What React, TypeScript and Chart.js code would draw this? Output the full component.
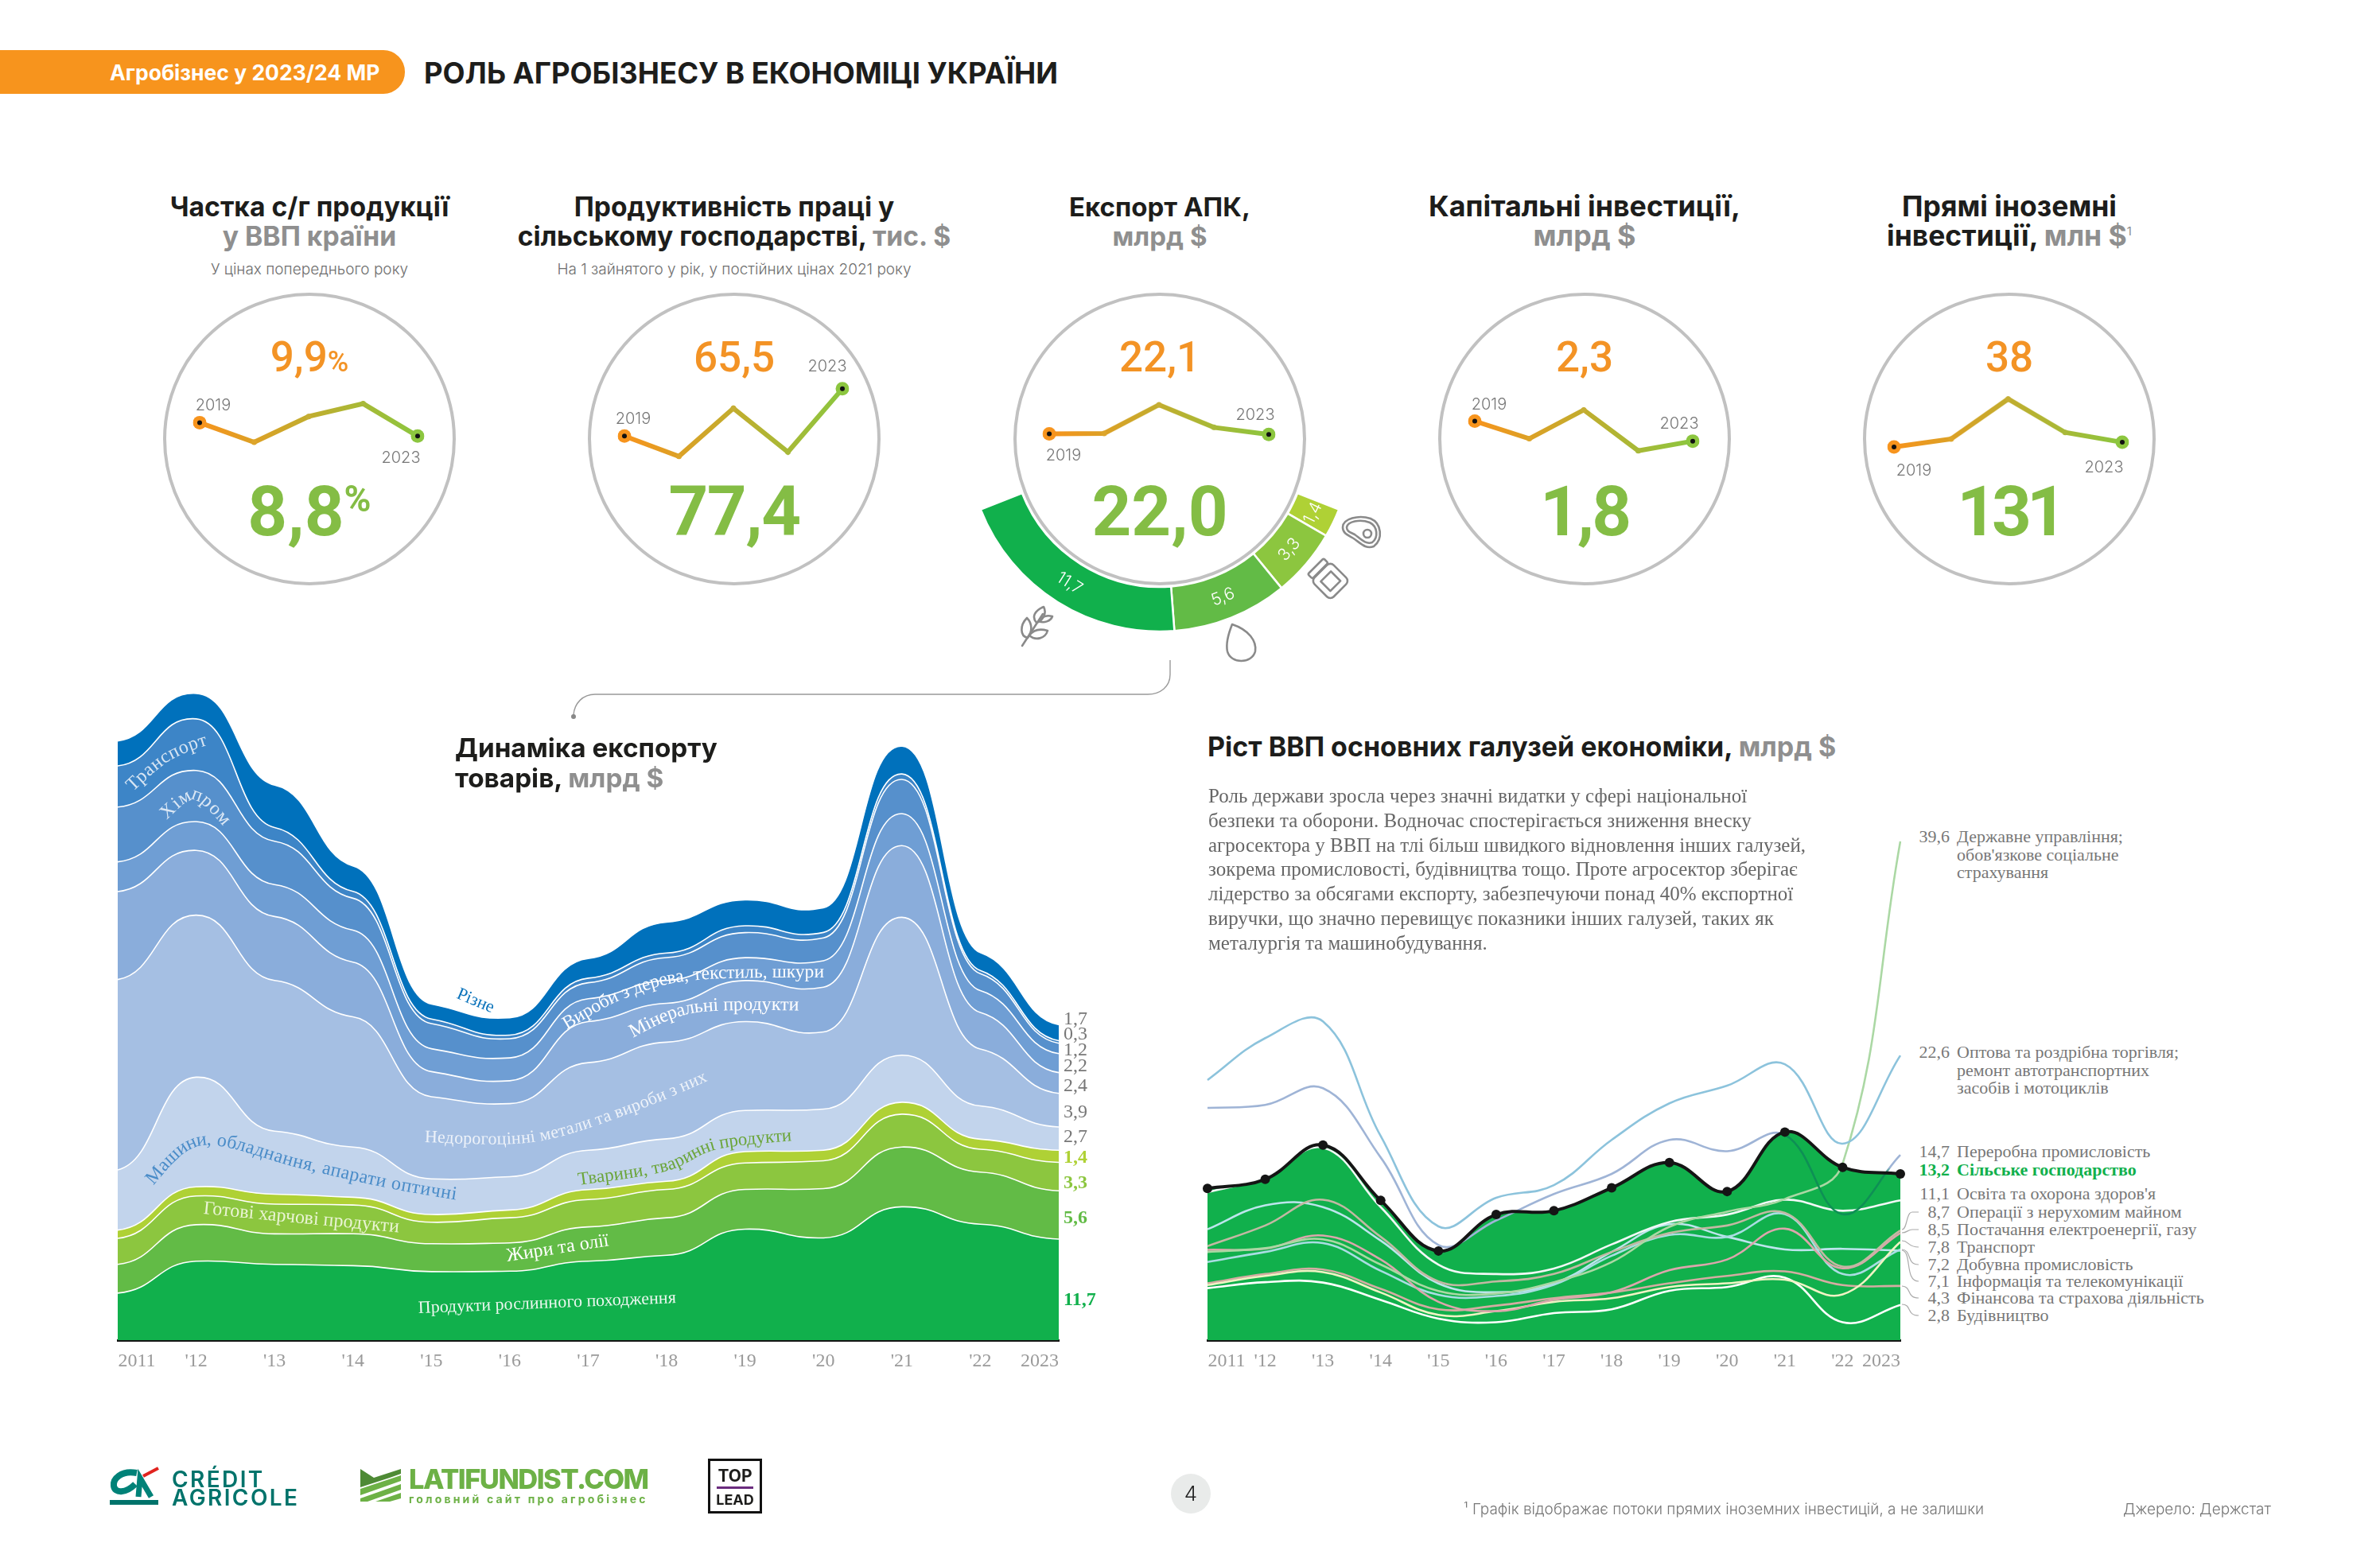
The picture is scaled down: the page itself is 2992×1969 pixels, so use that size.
import React, { useEffect, useRef } from "react";
import { Chart, registerables } from "chart.js";

Chart.register(...registerables);

// ---------- DATA ----------
const miniYears = ["2019", "2020", "2021", "2022", "2023"];
const gdpShare = [9.9, 8.3, 10.4, 11.45, 8.8];
const laborProductivity = [65.5, 60.4, 72.5, 61.5, 77.4];
const agriExport = [22.1, 22.2, 27.9, 23.4, 22.0];
const capitalInvestment = [2.3, 1.86, 2.58, 1.56, 1.8];
const foreignInvestment = [38, 195, 982, 324, 131];

const exportLabels = ["Тварини, тваринні продукти", "Готові харчові продукти", "Жири та олії", "Продукти рослинного походження"];
const exportValues = [1.4, 3.3, 5.6, 11.7];

const yearTicks = ["\u00A0\u00A0\u00A0\u00A0\u00A0\u00A0\u00A0\u00A02011", "'12", "'13", "'14", "'15", "'16", "'17", "'18", "'19", "'20", "'21", "'22", "2023\u00A0\u00A0\u00A0\u00A0\u00A0\u00A0\u00A0\u00A0"];

const plantProducts = [5.45, 9.15, 8.78, 8.63, 7.94, 7.99, 9.15, 9.84, 12.86, 11.85, 15.45, 13.44, 11.7];
const fatsOils = [3.33, 4.23, 3.54, 3.7, 3.23, 3.28, 3.97, 4.34, 4.6, 5.71, 6.93, 6.03, 5.6];
const preparedFood = [3.02, 3.33, 3.44, 3.33, 2.49, 2.91, 3.17, 3.28, 3.07, 3.23, 3.81, 2.65, 3.3];
const animalProducts = [0.95, 1.06, 1.16, 0.9, 0.9, 0.9, 1.16, 0.95, 1.32, 1.22, 1.38, 1.16, 1.4];
const machinery = [6.98, 12.7, 7.3, 5.82, 4.13, 3.86, 4.55, 4.92, 4.76, 4.76, 5.45, 3.86, 2.7];
const baseMetals = [22.06, 18.78, 17.46, 15.08, 9.52, 8.47, 10.16, 11.2, 10.3, 8.94, 15.98, 6.6, 3.9];
const minerals = [10.2, 7.51, 7.41, 6.35, 2.91, 2.65, 4.76, 4.5, 4.76, 5.19, 8.31, 4.23, 2.4];
const woodTextile = [3.44, 3.33, 3.7, 3.7, 2.65, 2.65, 2.65, 2.65, 2.65, 3.07, 3.7, 2.54, 2.2];
const chemicals = [6.35, 5.93, 5.03, 3.7, 2.91, 2.22, 1.85, 2.65, 2.91, 2.65, 3.97, 1.96, 1.2];
const transportGoods = [4.76, 5.98, 1.59, 0.79, 0.53, 0.42, 0.53, 0.53, 0.79, 0.63, 0.63, 0.37, 0.3];
const miscGoods = [2.75, 2.8, 4.76, 2.8, 1.59, 1.85, 2.12, 3.44, 2.86, 2.7, 3.07, 1.9, 1.7];

const agriculture = [12.04, 12.77, 15.49, 11.09, 7.08, 9.97, 10.27, 12.09, 14.1, 11.8, 16.52, 13.72, 13.2];
const tradeGdp = [20.65, 23.98, 25.3, 16.2, 9.03, 11.3, 12.3, 15.9, 18.8, 20.2, 21.9, 15.6, 22.6];
const manufacturingGdp = [18.44, 18.67, 20, 14.5, 7.55, 9.5, 11.6, 13.2, 15.9, 15, 16.3, 10, 14.7];
const publicAdminGdp = [7.0, 7.3, 8.0, 6.0, 3.9, 3.7, 4.6, 6.2, 9.0, 10.2, 11.2, 14.0, 39.6];
const educationGdp = [11.74, 12.92, 15.28, 10.56, 5.99, 5.25, 5.69, 7.6, 9.38, 9.97, 11.15, 10.27, 11.1];
const realEstateGdp = [7.46, 9.1, 11.15, 8.2, 4.66, 4.66, 5.25, 7, 8.5, 9.1, 10.1, 5.84, 8.7];
const energyGdp = [7.17, 7.26, 8.3, 6.4, 3.04, 2.3, 3.2, 3.8, 5.55, 6.4, 8.85, 5.7, 8.5];
const transportGdp = [4.37, 5.1, 5.4, 3.78, 2.0, 2.3, 3.04, 3.33, 4.22, 4.51, 4.8, 3.63, 7.8];
const miningGdp = [6.2, 7.0, 7.7, 5.5, 3.6, 3.5, 4.4, 6.7, 8.35, 8.2, 10, 5.25, 7.2];
const infoGdp = [8.8, 10.7, 10.56, 7.9, 4.5, 3.8, 4.5, 7, 9.2, 8.2, 7.2, 7.25, 7.1];
const financeGdp = [4.51, 5.25, 5.6, 4.07, 2.45, 2.74, 3.33, 3.78, 4.51, 5.1, 5.46, 4.37, 4.3];
const constructionGdp = [4.13, 4.6, 4.57, 3.19, 1.71, 1.42, 2.15, 2.45, 3.92, 4.22, 4.96, 1.42, 2.8];

// ---------- STYLE ----------
const SANS = 'Inter, "Noto Sans", sans-serif';
const NUM = 'Roboto, Inter, sans-serif';
const SLAB = '"Liberation Serif", serif';
const ORANGE = "#F7941D";
const GREEN_TXT = "#84BD45";
const GRAY_TITLE = "#8f8f8f";
const DARK = "#1d1d1b";

type CanvasProps = { make: () => any; left: number; top: number; width: number; height: number };

function ChartCanvas({ make, left, top, width, height }: CanvasProps) {
  const ref = useRef<HTMLCanvasElement | null>(null);
  useEffect(() => {
    const chart = new Chart(ref.current as HTMLCanvasElement, make());
    return () => chart.destroy();
  }, []);
  return <canvas ref={ref} width={width} height={height} style={{ position: "absolute", left, top, width, height }} />;
}

type TextProps = {
  x: number; y: number; size: number; color?: string; weight?: number; font?: string;
  anchor?: "start" | "middle" | "end"; spacing?: number; children: React.ReactNode;
};

function T({ x, y, size, color = DARK, weight = 400, font = SANS, anchor = "start", spacing = 0, children }: TextProps) {
  const tx = anchor === "start" ? "0" : anchor === "middle" ? "-50%" : "-100%";
  return (
    <div style={{
      position: "absolute", left: x, top: y, transform: `translate(${tx},-50%)`, fontFamily: font, fontSize: size,
      fontWeight: weight, color, whiteSpace: "nowrap", lineHeight: 1, letterSpacing: spacing,
    }}>{children}</div>
  );
}

// ---------- CHART CONFIGS ----------
function miniConfig(values: number[], yMin: number, yMax: number) {
  const dots = ["#F7941D", "#DDA52B", "#C6AE35", "#A9B93A", "#8CC63F"];
  return {
    type: "line",
    data: {
      labels: miniYears,
      datasets: [
        {
          data: values.map((v, i) => (i === 0 || i === values.length - 1 ? v : null)),
          showLine: false, pointRadius: 3, pointBackgroundColor: "#111", pointBorderWidth: 0, order: 0,
        },
        {
          data: values, tension: 0, borderWidth: 6, order: 1,
          borderColor: (c: any) => {
            const a = c.chart.chartArea;
            if (!a) return ORANGE;
            const g = c.chart.ctx.createLinearGradient(a.left, 0, a.right, 0);
            g.addColorStop(0, "#F7941D");
            g.addColorStop(1, "#8CC63F");
            return g;
          },
          pointRadius: [8.5, 3.5, 3.5, 3.5, 8.5], pointBackgroundColor: dots, pointBorderWidth: 0,
        },
      ],
    },
    options: {
      animation: false, responsive: false, devicePixelRatio: 1,
      layout: { padding: { left: 14, right: 14, top: 0, bottom: 0 } },
      plugins: { legend: { display: false }, tooltip: { enabled: false } },
      scales: { x: { display: false }, y: { display: false, min: yMin, max: yMax } },
    },
  };
}

const arcLabels = {
  id: "arcLabels",
  afterDatasetsDraw(chart: any) {
    const { ctx } = chart;
    const meta = chart.getDatasetMeta(0);
    meta.data.forEach((arc: any, i: number) => {
      const { x, y } = arc.tooltipPosition();
      const mid = (arc.startAngle + arc.endAngle) / 2;
      ctx.save();
      ctx.translate(x, y);
      ctx.rotate(mid - Math.PI / 2);
      ctx.fillStyle = "#fff";
      ctx.font = `300 21px ${SANS}`;
      ctx.textAlign = "center";
      ctx.textBaseline = "middle";
      ctx.fillText(String(exportValues[i]).replace(".", ","), 0, 0);
      ctx.restore();
    });
  },
};

function doughnutConfig() {
  return {
    type: "doughnut",
    data: {
      labels: exportLabels,
      datasets: [{
        data: exportValues,
        backgroundColor: ["#AFD135", "#8CC63F", "#62BB46", "#11B04C"],
        borderColor: "#fff", borderWidth: 2.5,
      }],
    },
    options: {
      animation: false, responsive: false, devicePixelRatio: 1,
      rotation: 111.5, circumference: 137, radius: 242, cutout: "76.9%",
      plugins: { legend: { display: false }, tooltip: { enabled: false } },
    },
    plugins: [arcLabels],
  };
}

function xAxis() {
  return {
    grid: { display: false, drawTicks: false },
    border: { display: true, color: "#151515", width: 3 },
    ticks: { autoSkip: false, maxRotation: 0, minRotation: 0, padding: 12, color: "#9a9a9a", font: { family: SLAB, size: 24 } },
    afterFit: (s: any) => { s.height = 45; s.paddingLeft = 0; s.paddingRight = 0; },
  };
}

// Flattens each year's tangent so the bands shoulder at every year, as in the reference.
const shoulderCurves = {
  id: "shoulderCurves",
  afterDatasetsUpdate(chart: any) {
    const flatten = 0.2;
    chart.getSortedVisibleDatasetMetas().forEach((meta: any) => {
      const line = meta.dataset;
      const pts = line.points;
      pts.forEach((p: any, i: number) => {
        const a = pts[Math.max(i - 1, 0)], b = pts[Math.min(i + 1, pts.length - 1)];
        const m = (flatten * (b.y - a.y)) / (b.x - a.x);
        const d = (pts[1].x - pts[0].x) * 0.5;
        p.cp1x = p.x - d; p.cp1y = p.y - m * d;
        p.cp2x = p.x + d; p.cp2y = p.y + m * d;
      });
      line._pointsUpdated = true;
    });
  },
};

function streamConfig() {
  const layers = [
    [plantProducts, "#11B04C", "Продукти рослинного походження"],
    [fatsOils, "#62BB46", "Жири та олії"],
    [preparedFood, "#8CC63F", "Готові харчові продукти"],
    [animalProducts, "#AFD135", "Тварини, тваринні продукти"],
    [machinery, "#C2D4EC", "Машини, обладнання, апарати оптичні"],
    [baseMetals, "#A5BFE3", "Недорогоцінні метали та вироби з них"],
    [minerals, "#8AADDB", "Мінеральні продукти"],
    [woodTextile, "#6F9ED4", "Вироби з дерева, текстиль, шкури"],
    [chemicals, "#5690CC", "Хімпром"],
    [transportGoods, "#3D85C7", "Транспорт"],
    [miscGoods, "#0071BC", "Різне"],
  ] as [number[], string, string][];
  return {
    type: "line",
    data: {
      labels: yearTicks,
      datasets: layers.map(([data, color, label], i) => ({
        label, data, backgroundColor: color, borderColor: i === layers.length - 1 ? color : "#ffffff", borderWidth: 1.6,
        fill: i === 0 ? "origin" : "-1", pointRadius: 0, tension: 0.4,
      })),
    },
    options: {
      animation: false, responsive: false, devicePixelRatio: 1,
      layout: { padding: { left: 18, right: 19, top: 0, bottom: 0 } },
      plugins: { legend: { display: false }, tooltip: { enabled: false } },
      scales: { x: xAxis(), y: { display: false, stacked: true, min: 0, max: 76.04 } },
    },
    plugins: [shoulderCurves],
  };
}

function gdpConfig() {
  const lines = [
    [tradeGdp, "#8CC3DC", "Оптова та роздрібна торгівля"],
    [manufacturingGdp, "#9FB4D6", "Переробна промисловість"],
    [publicAdminGdp, "#ABD8A4", "Державне управління"],
    [educationGdp, "#F2F8F6", "Освіта та охорона здоров'я"],
    [realEstateGdp, "#C3B8A3", "Операції з нерухомим майном"],
    [energyGdp, "#DCA6AC", "Постачання електроенергії, газу"],
    [transportGdp, "#F0F3C4", "Транспорт"],
    [miningGdp, "#A9DDE2", "Добувна промисловість"],
    [infoGdp, "#BCE5EC", "Інформація та телекомунікації"],
    [financeGdp, "#D4ACA2", "Фінансова та страхова діяльність"],
    [constructionGdp, "#FFFFFF", "Будівництво"],
  ] as [number[], string, string][];
  const overFill = (c: any, color: string) => {
    if (c.p0DataIndex === 10) return "#0E8F55";
    if (c.p0DataIndex === 11) {
      const y = c.chart.scales.y;
      const g = c.chart.ctx.createLinearGradient(0, y.getPixelForValue(13.7), 0, y.getPixelForValue(13.2));
      g.addColorStop(0, color);
      g.addColorStop(1, "#0E8F55");
      return g;
    }
    return color;
  };
  return {
    type: "line",
    data: {
      labels: yearTicks,
      datasets: [
        {
          label: "Сільське господарство", data: agriculture, order: 0, borderColor: "#151515", borderWidth: 4,
          pointRadius: 6, pointBackgroundColor: "#151515", pointBorderWidth: 0, tension: 0.4,
        },
        ...lines.map(([data, color, label], i) => ({
          label, data, borderColor: color, borderWidth: 2.6, pointRadius: 0, tension: 0.4, order: i + 1,
          segment: label === "Переробна промисловість"
            ? { borderColor: (c: any) => overFill(c, color) }
            : undefined,
        })),
        {
          label: "fill", data: agriculture, order: 50, borderWidth: 0, pointRadius: 0, tension: 0.4,
          backgroundColor: "#11B04C", fill: "origin",
        },
      ],
    },
    options: {
      animation: false, responsive: false, devicePixelRatio: 1,
      layout: { padding: { left: 18, right: 21, top: 0, bottom: 0 } },
      plugins: { legend: { display: false }, tooltip: { enabled: false } },
      scales: { x: xAxis(), y: { display: false, min: 0, max: 42.875 } },
    },
  };
}

// ---------- LAYOUT HELPERS ----------
function smooth(p: number[][]) {
  let d = `M${p[0][0]} ${p[0][1]}`;
  for (let i = 0; i < p.length - 1; i++) {
    const a = p[Math.max(i - 1, 0)], b = p[i], c = p[i + 1], e = p[Math.min(i + 2, p.length - 1)];
    d += ` C${b[0] + (c[0] - a[0]) / 6} ${b[1] + (c[1] - a[1]) / 6} ${c[0] - (e[0] - b[0]) / 6} ${c[1] - (e[1] - b[1]) / 6} ${c[0]} ${c[1]}`;
  }
  return d;
}

const curved: [string, string, number[][], number, number][] = [
  ["Транспорт", "#D7E5F3", [[163, 991], [209, 952], [262, 930], [300, 925]], 24, 1],
  ["Хімпром", "#DCE8F5", [[205, 1026], [246, 1000], [293, 1044], [310, 1070]], 24, 2],
  ["Різне", "#0B73BB", [[575, 1250], [623, 1270], [650, 1280]], 22, 0],
  ["Вироби з дерева, текстиль, шкури", "#FFFFFF", [[710, 1290], [785, 1250], [876, 1227], [1060, 1224]], 23.5, 0],
  ["Мінеральні продукти", "#FFFFFF", [[793, 1299], [876, 1267], [1040, 1265]], 24, 0],
  ["Недорогоцінні метали та вироби з них", "#EDF2F9", [[534, 1431], [669, 1431], [793, 1394], [920, 1340]], 22, 0.2],
  ["Машини, обладнання, апарати оптичні", "#4A8CC8", [[188, 1486], [254, 1434], [379, 1463], [495, 1489], [620, 1510]], 24, 0.5],
  ["Готові харчові продукти", "#EAF4D4", [[256, 1520], [379, 1532], [530, 1546]], 24, 0],
  ["Жири та олії", "#FFFFFF", [[637, 1580], [780, 1558]], 24, 0],
  ["Тварини, тваринні продукти", "#6BA53A", [[727, 1485], [835, 1468], [901, 1440], [1010, 1428]], 23, 0],
  ["Продукти рослинного походження", "#EAF7EE", [[526, 1646], [880, 1632]], 22, 0],
];

const streamValueLabels: [string, number, string, number][] = [
  ["1,7", 1280, "#777", 400], ["0,3", 1299, "#777", 400], ["1,2", 1319, "#777", 400], ["2,2", 1339, "#777", 400],
  ["2,4", 1364, "#777", 400], ["3,9", 1397, "#777", 400], ["2,7", 1428, "#777", 400],
  ["1,4", 1454, "#AFD135", 700], ["3,3", 1486, "#8CC63F", 700], ["5,6", 1530, "#62BB46", 700], ["11,7", 1633, "#11B04C", 700],
];

const gdpLabels: [string, string[], number, boolean?][] = [
  ["39,6", ["Державне управління;", "обов'язкове соціальне", "страхування"], 1052],
  ["22,6", ["Оптова та роздрібна торгівля;", "ремонт автотранспортних", "засобів і мотоциклів"], 1323],
  ["14,7", ["Переробна промисловість"], 1448],
  ["13,2", ["Сільське господарство"], 1471, true],
  ["11,1", ["Освіта та охорона здоров'я"], 1501],
  ["8,7", ["Операції з нерухомим майном"], 1524],
  ["8,5", ["Постачання електроенергії, газу"], 1546],
  ["7,8", ["Транспорт"], 1568],
  ["7,2", ["Добувна промисловість"], 1590],
  ["7,1", ["Інформація та телекомунікації"], 1611],
  ["4,3", ["Фінансова та страхова діяльність"], 1632],
  ["2,8", ["Будівництво"], 1654],
];

const leaders = [
  "M2391 1546 C2398 1546 2396 1524 2404 1524 L2412 1524",
  "M2391 1550 C2398 1550 2398 1546 2404 1546 L2412 1546",
  "M2391 1560 C2400 1560 2398 1568 2412 1568",
  "M2391 1571 C2404 1572 2396 1590 2412 1590",
  "M2391 1572 C2404 1574 2394 1611 2412 1611",
  "M2391 1617 C2404 1618 2396 1632 2412 1632",
  "M2391 1640 C2404 1640 2396 1654 2412 1654",
];

const cards = [
  { cx: 389, size: 33.7, tight: 0, title: [["Частка с/г продукції"], [null, "у ВВП країни"]], sub: "У цінах попереднього року", top: "9,9", bottom: "8,8", pct: true, values: gdpShare, first: 251, last: 525, yMin: 4.04, yMax: 15.94, y19: [268, 509], y23: [504, 575] },
  { cx: 923, size: 33.6, tight: -1.5, title: [["Продуктивність праці у"], ["сільському господарстві, ", "тис. $"]], sub: "На 1 зайнятого у рік, у постійних цінах 2021 року", top: "65,5", bottom: "77,4", pct: false, values: laborProductivity, first: 784.5, last: 1059, yMin: 50.85, yMax: 87.48, y19: [796, 526], y23: [1040, 460] },
  { cx: 1458, size: 33, tight: 0, title: [["Експорт АПК,"], [null, "млрд $"]], sub: "", top: "22,1", bottom: "22,0", pct: false, values: agriExport, first: 1319, last: 1594.5, yMin: 10.07, yMax: 39.06, y19: [1337, 572], y23: [1578, 521] },
  { cx: 1992, size: 35.8, tight: -3, title: [["Капітальні інвестиції,"], [null, "млрд $"]], sub: "", top: "2,3", bottom: "1,8", pct: false, values: capitalInvestment, first: 1854, last: 2128, yMin: 0.47, yMax: 4.11, y19: [1872, 508], y23: [2111, 532] },
  { cx: 2526, size: 35.5, tight: -6, title: [["Прямі іноземні"], ["інвестиції, ", "млн $", "1"]], sub: "", top: "38", bottom: "131", pct: false, values: foreignInvestment, first: 2381, last: 2667.5, yMin: -892, yMax: 1970, y19: [2406, 591], y23: [2645, 587] },
] as any[];

const bodyLines = [
  "Роль держави зросла через значні видатки у сфері національної",
  "безпеки та оборони. Водночас спостерігається зниження внеску",
  "агросектора у ВВП на тлі більш швидкого відновлення інших галузей,",
  "зокрема промисловості, будівництва тощо. Проте агросектор зберігає",
  "лідерство за обсягами експорту, забезпечуючи понад 40% експортної",
  "виручки, що значно перевищує показники інших галузей, таких як",
  "металургія та машинобудування.",
];

export default function App() {
  return (
    <div style={{ position: "absolute", left: 0, top: 0, width: 2992, height: 1969, background: "#fff", overflow: "hidden" }}>
      {/* header */}
      <div style={{ position: "absolute", left: 0, top: 63, width: 509, height: 55, background: ORANGE, borderRadius: "0 27px 27px 0" }} />
      <T x={138} y={91} size={26.5} color="#fff" weight={700}>Агробізнес у 2023/24 МР</T>
      <T x={533} y={92} size={36.4} weight={700}>РОЛЬ АГРОБІЗНЕСУ В ЕКОНОМІЦІ УКРАЇНИ</T>

      {/* doughnut sits behind the third circle */}
      <ChartCanvas make={doughnutConfig} left={1218} top={600} width={480} height={214} />

      {cards.map((c) => (
        <React.Fragment key={c.cx}>
          {c.title.map((line: any[], i: number) => (
            <T key={i} x={c.cx} y={260 + i * 37} size={c.size} weight={700} anchor="middle">
              {line[0]}
              {line[1] ? <span style={{ color: GRAY_TITLE }}>{line[1]}</span> : null}
              {line[2] ? <sup style={{ color: GRAY_TITLE, fontSize: 15, fontWeight: 400, verticalAlign: "super", lineHeight: 0 }}>{line[2]}</sup> : null}
            </T>
          ))}
          {c.sub ? <T x={c.cx} y={338} size={19} color="#6f6f6f" weight={300} anchor="middle">{c.sub}</T> : null}
          <div style={{ position: "absolute", left: c.cx - 184, top: 368, width: 368, height: 368, boxSizing: "border-box", borderRadius: "50%", border: "4px solid #C1C1C1", background: "#fff" }} />
          <ChartCanvas
            make={() => miniConfig(c.values, c.yMin, c.yMax)}
            left={c.first - 14} top={430} width={c.last - c.first + 28} height={200}
          />
          <T x={c.cx} y={449} size={53} color="#F39325" weight={500} font={NUM} anchor="middle">
            {c.top}{c.pct ? <span style={{ fontSize: 36 }}>%</span> : null}
          </T>
          <T x={c.cx} y={643} size={87} color={GREEN_TXT} weight={700} font={NUM} anchor="middle" spacing={c.tight}>
            {c.bottom}
            {c.pct ? <span style={{ fontSize: 46, position: "relative", top: -30 }}>%</span> : null}
          </T>
          <T x={c.y19[0]} y={c.y19[1]} size={20} color="#777" weight={300} anchor="middle">2019</T>
          <T x={c.y23[0]} y={c.y23[1]} size={20} color="#777" weight={300} anchor="middle">2023</T>
        </React.Fragment>
      ))}

      {/* stream chart */}
      <ChartCanvas make={streamConfig} left={130} top={860} width={1220} height={870} />
      <T x={572} y={941} size={33.3} weight={700}>Динаміка експорту</T>
      <T x={572} y={979} size={33.3} weight={700}>товарів, <span style={{ color: GRAY_TITLE }}>млрд $</span></T>
      {streamValueLabels.map(([v, y, color, weight]) => (
        <T key={v + y} x={1337} y={y} size={24} color={color} weight={weight} font={SLAB}>{v}</T>
      ))}

      {/* gdp chart */}
      <ChartCanvas make={gdpConfig} left={1500} top={1000} width={910} height={730} />
      <T x={1518} y={939} size={34} weight={700}>Ріст ВВП основних галузей економіки, <span style={{ color: GRAY_TITLE }}>млрд $</span></T>
      {bodyLines.map((l, i) => (
        <T key={i} x={1519} y={1000 + i * 30.8} size={25} color="#666" font={SLAB}>{l}</T>
      ))}
      {gdpLabels.map(([v, lines, y, bold]) => (
        <React.Fragment key={v}>
          <T x={2451} y={y} size={22} anchor="end" color={bold ? "#11B04C" : "#777"} weight={bold ? 700 : 400} font={SLAB}>{v}</T>
          {lines.map((l, i) => (
            <T key={i} x={2460} y={y + i * 22.6} size={22} color={bold ? "#11B04C" : "#777"} weight={bold ? 700 : 400} font={SLAB}>{l}</T>
          ))}
        </React.Fragment>
      ))}

      {/* overlay: curved labels, leaders, connector, icons, logos */}
      <svg width={2992} height={1969} style={{ position: "absolute", left: 0, top: 0, pointerEvents: "none" }}>
        <defs>
          {curved.map((c, i) => <path key={i} id={`cv${i}`} d={smooth(c[2])} fill="none" />)}
        </defs>
        {curved.map((c, i) => (
          <text key={i} fontFamily={SLAB} fontSize={c[3]} fill={c[1]} letterSpacing={c[4]} dominantBaseline="middle">
            <textPath href={`#cv${i}`}>{c[0]}</textPath>
          </text>
        ))}
        {leaders.map((d, i) => <path key={i} d={d} fill="none" stroke="#aaa" strokeWidth={1.2} />)}

        <path d="M1471 830 L1471 848 C1471 864 1458 873 1443 873 L748 873 C733 873 722 884 721 899" fill="none" stroke="#999" strokeWidth={1.4} />
        <circle cx={721} cy={901} r={3} fill="#888" />

        <g fill="none" stroke="#8a8a8a" strokeWidth={2.6} strokeLinejoin="round" strokeLinecap="round">
          {/* wheat */}
          <path d="M1285 812 L1311 772" />
          <path d="M1292 802 C1282 800 1282 786 1291 777 C1298 784 1298 794 1292 802Z" />
          <path d="M1294 799 C1302 806 1314 803 1317 793 C1307 790 1299 792 1294 799Z" />
          <path d="M1303 783 C1297 776 1300 768 1312 763 C1316 770 1312 780 1303 783Z" />
          <path d="M1306 781 C1312 784 1321 781 1323 775 C1316 773 1310 775 1306 781Z" />
          {/* drop */}
          <path d="M1549 785 C1543 800 1541 810 1543 819 C1547 835 1574 835 1578 819 C1580 806 1570 792 1549 785Z" />
          {/* jar */}
          <g transform="translate(1671 729) rotate(-45)">
            <rect x={-17} y={-15} width={34} height={34} rx={6} />
            <rect x={-14} y={-24} width={28} height={8} rx={2} />
            <rect x={-9} y={-6} width={18} height={17} />
          </g>
          {/* meat */}
          <path d="M1688 663 C1688 652 1708 647 1723 652 C1737 658 1739 678 1727 687 C1716 691 1710 682 1700 676 C1693 672 1688 670 1688 663Z" />
          <path d="M1693 663 C1694 656 1709 652 1722 657 C1732 662 1733 676 1725 682 C1717 685 1711 678 1703 672 C1697 669 1693 668 1693 663Z" />
          <circle cx={1719} cy={671} r={5} />
        </g>

        {/* credit agricole mark */}
        <rect x={138} y={1886} width={61} height={6} fill="#00736B" />
        <path d="M172 1852 C152 1848 142 1860 143 1868 C144 1878 158 1878 170 1866" fill="none" stroke="#008278" strokeWidth={8} />
        <path d="M174 1882 L176 1858 L190 1882" fill="none" stroke="#008278" strokeWidth={7} />
        <path d="M180 1856 L199 1846" stroke="#E1231E" strokeWidth={4} />

        {/* latifundist mark */}
        <g fill="#6DB146">
          <path d="M453 1847 L470 1858 L504 1847 L504 1853 L476 1863 L490 1858 L453 1870Z" fill="#4E8A35" />
          <path d="M453 1872 L504 1855 L504 1862 L453 1880Z" />
          <path d="M453 1884 L504 1866 L504 1873 L462 1888 L453 1888Z" />
          <path d="M472 1888 L504 1877 L504 1884 L490 1888Z" />
        </g>
      </svg>

      {/* footer */}
      <T x={216} y={1860} size={28} color="#00736B" weight={600} spacing={2.4}>CRÉDIT</T>
      <T x={216} y={1883} size={28} color="#00736B" weight={600} spacing={2.4}>AGRICOLE</T>
      <T x={514} y={1860} size={34.5} color="#6DB146" weight={800} spacing={-1.5}>LATIFUNDIST.COM</T>
      <T x={514} y={1885} size={14} color="#6DB146" weight={700} spacing={3.2}>головний сайт про агробізнес</T>

      <div style={{ position: "absolute", left: 890, top: 1834, width: 68, height: 69, boxSizing: "border-box", border: "3px solid #111" }} />
      <T x={924} y={1855} size={21} weight={700} anchor="middle">TOP</T>
      <div style={{ position: "absolute", left: 901, top: 1869, width: 46, height: 3, background: "#6B2C7E" }} />
      <T x={924} y={1886} size={18} weight={700} anchor="middle">LEAD</T>

      <div style={{ position: "absolute", left: 1472, top: 1853, width: 50, height: 50, borderRadius: "50%", background: "#E9EBEA" }} />
      <T x={1497} y={1878} size={26} color="#222" weight={300} anchor="middle">4</T>
      <T x={1840} y={1897} size={19} color="#777" weight={300}>¹ Графік відображає потоки прямих іноземних інвестицій, а не залишки</T>
      <T x={2669} y={1897} size={19} color="#777" weight={300}>Джерело: Держстат</T>
    </div>
  );
}
